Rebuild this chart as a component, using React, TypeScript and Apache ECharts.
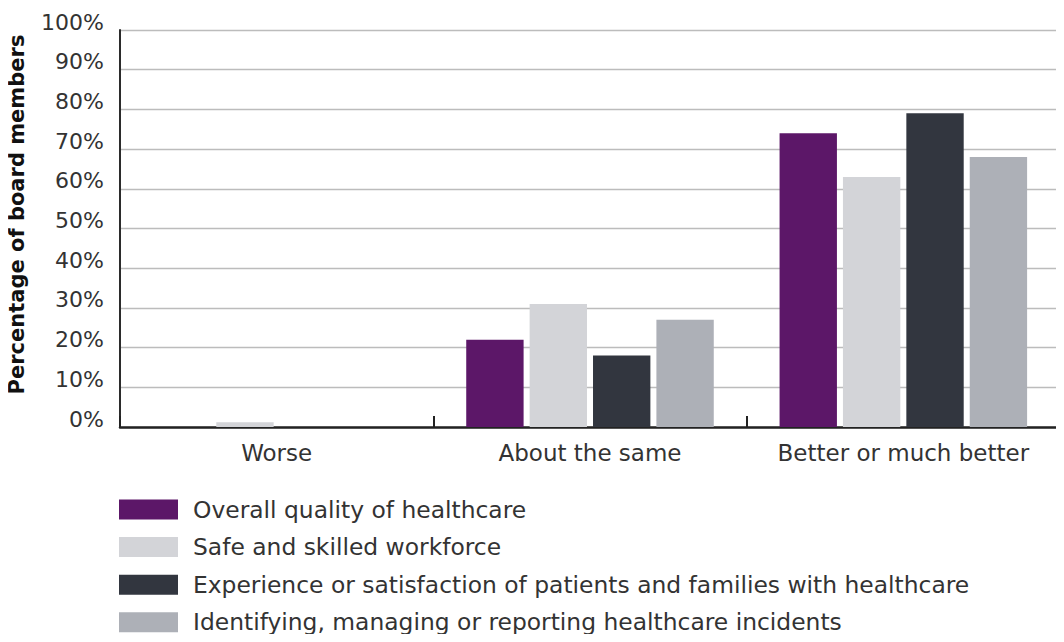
import React, { useEffect, useRef } from "react";
import * as echarts from "echarts";

const categories = ["Worse", "About the same", "Better or much better"];
const seriesNames = [
  "Overall quality of healthcare",
  "Safe and skilled workforce",
  "Experience or satisfaction of patients and families with healthcare",
  "Identifying, managing or reporting healthcare incidents",
];
const overallQuality = [0, 22, 74];
const safeWorkforce = [1.2, 31, 63];
const experience = [0, 18, 79];
const incidents = [0, 27, 68];
const colors = ["#5c1768", "#d3d4d8", "#32363f", "#adb0b7"];

const FONT = "DejaVu Sans";

export default function App() {
  const ref = useRef<HTMLDivElement>(null);
  useEffect(() => {
    if (!ref.current) return;
    const chart = echarts.init(ref.current, null, { renderer: "svg" });
    const values = [overallQuality, safeWorkforce, experience, incidents];
    chart.setOption({
      animation: false,
      textStyle: { fontFamily: FONT },
      grid: {
        left: 120,
        top: 30,
        right: 4,
        bottom: 215,
        containLabel: false,
        outerBoundsMode: "none",
      },
      legend: {
        orient: "vertical",
        left: 114,
        top: 493,
        padding: 5,
        itemWidth: 59,
        itemHeight: 20,
        itemGap: 14.6,
        icon: "rect",
        data: seriesNames,
        textStyle: {
          fontFamily: FONT,
          fontSize: 23.4,
          color: "#333",
          padding: [0, 0, 0, 10],
          lineHeight: 22,
        },
      },
      xAxis: {
        type: "category",
        data: categories,
        axisLine: { lineStyle: { color: "#222", width: 2.5 } },
        axisTick: {
          show: true,
          inside: true,
          length: 11,
          interval: 0,
          lineStyle: { color: "#222", width: 2 },
        },
        axisLabel: { fontFamily: FONT, fontSize: 23, color: "#333", margin: 14, interval: 0 },
      },
      yAxis: {
        type: "value",
        min: 0,
        max: 100,
        interval: 10,
        name: "Percentage of board members",
        nameLocation: "middle",
        nameGap: 94,
        nameTextStyle: {
          fontFamily: FONT,
          fontSize: 21,
          fontWeight: "bold",
          color: "#111",
          lineHeight: 18,
          padding: [0, 0, 0, 28],
        },
        axisLine: { show: true, lineStyle: { color: "#2b2b2b", width: 2 } },
        axisTick: { show: false },
        splitLine: { lineStyle: { color: "#bcbcbc", width: 1.3 } },
        axisLabel: {
          fontFamily: FONT,
          fontSize: 22,
          color: "#333",
          margin: 16,
          formatter: "{value}%",
          verticalAlign: "bottom",
          lineHeight: 16,
        },
      },
      series: seriesNames.map((name, i) => ({
        name,
        type: "bar",
        data: values[i],
        itemStyle: { color: colors[i] },
        barGap: "10.5%",
        barCategoryGap: "21%",
      })),
    });
    return () => chart.dispose();
  }, []);
  return <div ref={ref} style={{ width: 1064, height: 642, margin: -8 }} />;
}
